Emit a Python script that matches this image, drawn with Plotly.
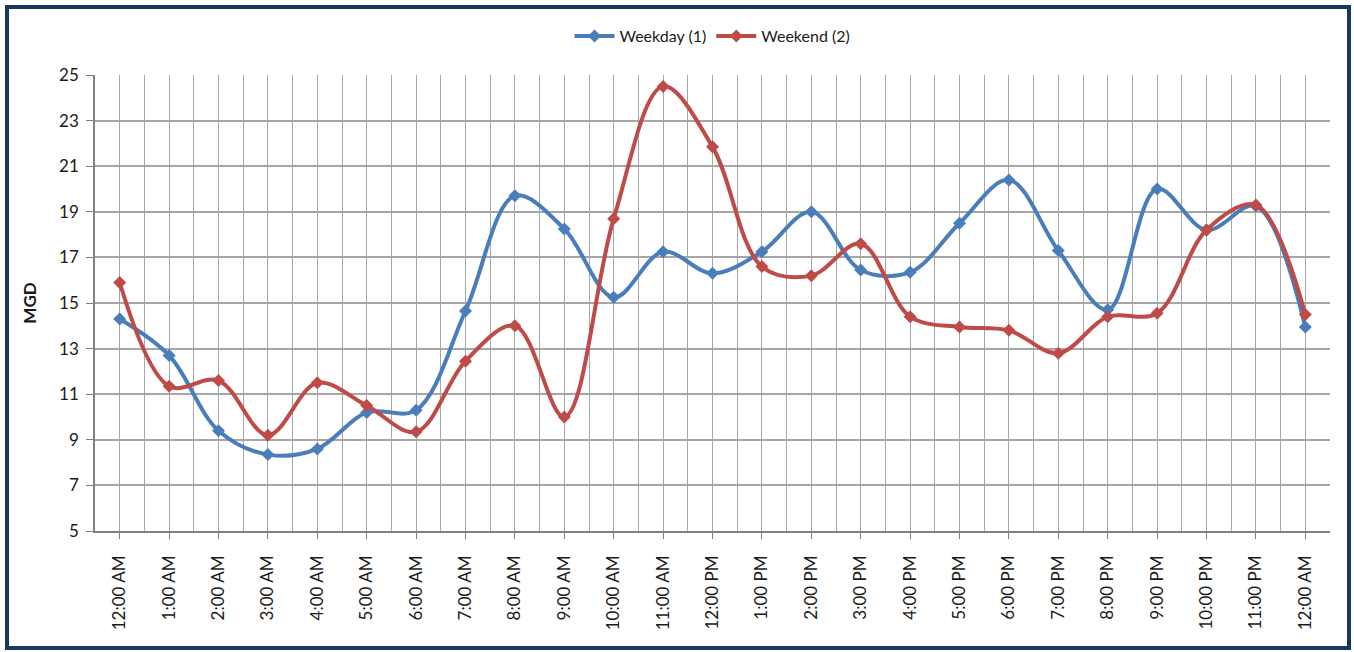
import plotly.graph_objects as go

hours = ["12:00 AM", "1:00 AM", "2:00 AM", "3:00 AM", "4:00 AM", "5:00 AM", "6:00 AM",
         "7:00 AM", "8:00 AM", "9:00 AM", "10:00 AM", "11:00 AM", "12:00 PM", "1:00 PM",
         "2:00 PM", "3:00 PM", "4:00 PM", "5:00 PM", "6:00 PM", "7:00 PM", "8:00 PM",
         "9:00 PM", "10:00 PM", "11:00 PM", "12:00 AM"]
weekday = [14.3, 12.7, 9.4, 8.35, 8.6, 10.2, 10.3, 14.65, 19.7, 18.25, 15.25, 17.25, 16.3,
           17.25, 19.0, 16.45, 16.35, 18.5, 20.4, 17.3, 14.7, 20.0, 18.2, 19.25, 13.95]
weekend = [15.9, 11.35, 11.6, 9.2, 11.5, 10.5, 9.35, 12.45, 14.0, 10.0, 18.7, 24.5, 21.85,
           16.6, 16.2, 17.6, 14.4, 13.95, 13.8, 12.8, 14.4, 14.55, 18.2, 19.3, 14.5]
y_ticks = [5, 7, 9, 11, 13, 15, 17, 19, 21, 23, 25]

xpos = list(range(len(hours)))

fig = go.Figure()
fig.add_trace(go.Scatter(x=xpos, y=weekday, name="Weekday (1)", mode="lines+markers",
                         line=dict(color="#4A7EBB", width=4, shape="spline", smoothing=1.0),
                         marker=dict(symbol="diamond", size=10, color="#4A7EBB")))
fig.add_trace(go.Scatter(x=xpos, y=weekend, name="Weekend (2)", mode="lines+markers",
                         line=dict(color="#BE4B48", width=4, shape="spline", smoothing=1.0),
                         marker=dict(symbol="diamond", size=10, color="#BE4B48")))

W, H = 1354, 652
ml, mr, mt, mb = 95, 24, 75, 121
pw, ph = W - ml - mr, H - mt - mb

def px2paper_x(px):
    return (px - ml) / pw

def px2paper_y(py):
    return (H - mb - py) / ph

grid_col = "#A6A6A6"
fig.update_layout(
    width=W, height=H,
    margin=dict(l=ml, r=mr, t=mt, b=mb),
    paper_bgcolor="white", plot_bgcolor="white",
    font=dict(family="Lato, 'Open Sans', sans-serif", size=16, color="#1a1a1a"),
    showlegend=True,
    legend=dict(orientation="h", x=0.5, xanchor="center", y=px2paper_y(36), yanchor="middle",
                font=dict(size=16), itemwidth=40, bgcolor="rgba(0,0,0,0)"),
    xaxis=dict(
        range=[-0.5, len(hours) - 0.5],
        tickmode="array", tickvals=xpos, ticktext=hours, tickangle=-90,
        showgrid=True, gridcolor=grid_col, gridwidth=1,
        minor=dict(tickmode="array", tickvals=[i + 0.5 for i in range(-1, len(hours))],
                   showgrid=True, gridcolor=grid_col, gridwidth=1),
        ticks="outside", ticklen=6, tickcolor="#808080",
        showline=True, linecolor="#808080", linewidth=1.5, mirror=False,
        zeroline=False, tickfont=dict(size=17), ticklabelstandoff=10,
    ),
    yaxis=dict(
        range=[5, 25], tickvals=y_ticks,
        showgrid=True, gridcolor=grid_col, gridwidth=1.5,
        ticks="outside", ticklen=7, tickcolor="#808080",
        showline=True, linecolor="#808080", linewidth=1.5,
        zeroline=False, tickfont=dict(size=17), ticklabelstandoff=4,
        title=dict(text="<b>MGD</b>", font=dict(size=17), standoff=18),
    ),
    shapes=[dict(type="rect", xref="paper", yref="paper",
                 x0=px2paper_x(7), x1=px2paper_x(1349),
                 y0=px2paper_y(648), y1=px2paper_y(7),
                 line=dict(color="#17375E", width=4), layer="above")],
)

fig.write_html("out.html", config={"displayModeBar": False},
               post_script="document.body.style.margin='0';document.body.style.overflow='hidden';")
